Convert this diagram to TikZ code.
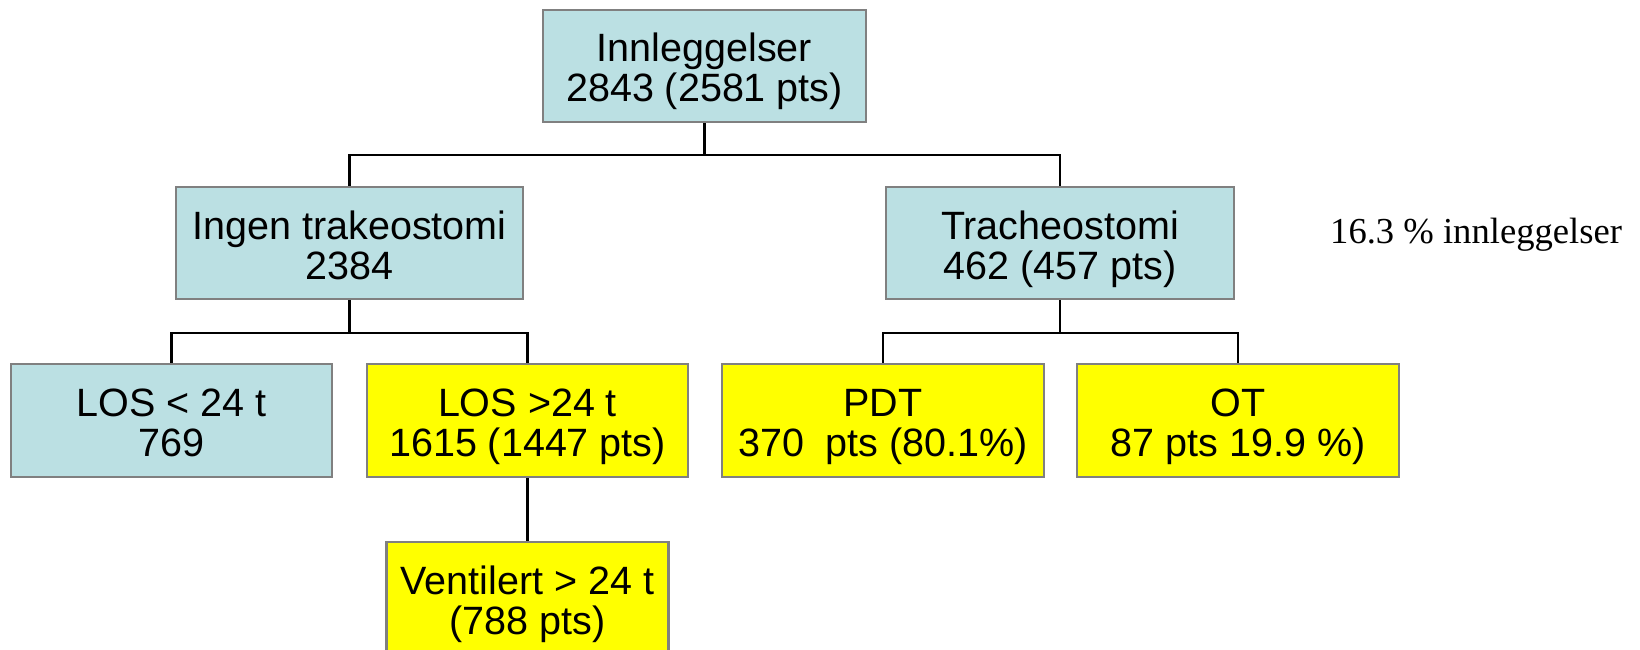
\documentclass[tikz,border=0pt]{standalone}
\usepackage{fontspec}
\setmainfont{Liberation Sans}
\newfontfamily\timesfont{Liberation Serif}
\definecolor{boxblue}{RGB}{187,224,227}
\definecolor{boxyellow}{RGB}{255,255,0}
\definecolor{boxborder}{RGB}{128,128,128}
\tikzset{
  basebox/.style={draw=boxborder, line width=2.5pt, inner sep=0pt, align=center,
    text height=76pt, text depth=4pt,
    font=\fontsize{39.5}{40}\selectfont},
  bluebox/.style={basebox, fill=boxblue},
  yelbox/.style={basebox, fill=boxyellow},
  conn/.style={draw=black, line width=2.4pt},
}
\begin{document}
\begin{tikzpicture}[x=1pt, y=-1pt]
\useasboundingbox (0,0) rectangle (1640,650);
\clip (0,0) rectangle (1640,650);
\node[bluebox, minimum width=323pt, minimum height=112pt] (top) at (704.5,66) {Innleggelser\\2843 (2581 pts)};
\node[bluebox, minimum width=347pt, minimum height=112pt] (ingen) at (349.5,243) {Ingen trakeostomi\\2384};
\node[bluebox, minimum width=348pt, minimum height=112pt] (trach) at (1060,243) {Tracheostomi\\462 (457 pts)};
\node[bluebox, minimum width=321pt, minimum height=113pt] (los1) at (171.5,420.5) {LOS < 24 t\\769};
\node[yelbox, minimum width=321pt, minimum height=113pt] (los2) at (527.5,420.5) {LOS >24 t\\1615 (1447 pts)};
\node[yelbox, minimum width=322pt, minimum height=113pt] (pdt) at (883,420.5) {PDT\\370\ \ pts (80.1\%)};
\node[yelbox, minimum width=322pt, minimum height=113pt] (ot) at (1238,420.5) {OT\\87 pts 19.9 \%)};
\node[yelbox, minimum width=282pt, minimum height=113pt] (vent) at (527.5,598.5) {Ventilert > 24 t\\(788 pts)};
\node[anchor=base west, inner sep=0pt, font=\timesfont\fontsize{36.6}{40}\selectfont] (pct) at (1330,243) {16.3 \% innleggelser};

\draw[conn] (top.south) -- ++(0,32) coordinate (j1);
\draw[conn] (ingen.north) |- (j1) -| (trach.north);
\draw[conn] (ingen.south) -- ++(0,33) coordinate (j2);
\draw[conn] (los1.north) |- (j2) -| (los2.north);
\draw[conn] (trach.south) -- ++(0,33) coordinate (j3);
\draw[conn] (pdt.north) |- (j3) -| (ot.north);
\draw[conn] (los2.south) -- (vent.north);
\end{tikzpicture}
\end{document}
